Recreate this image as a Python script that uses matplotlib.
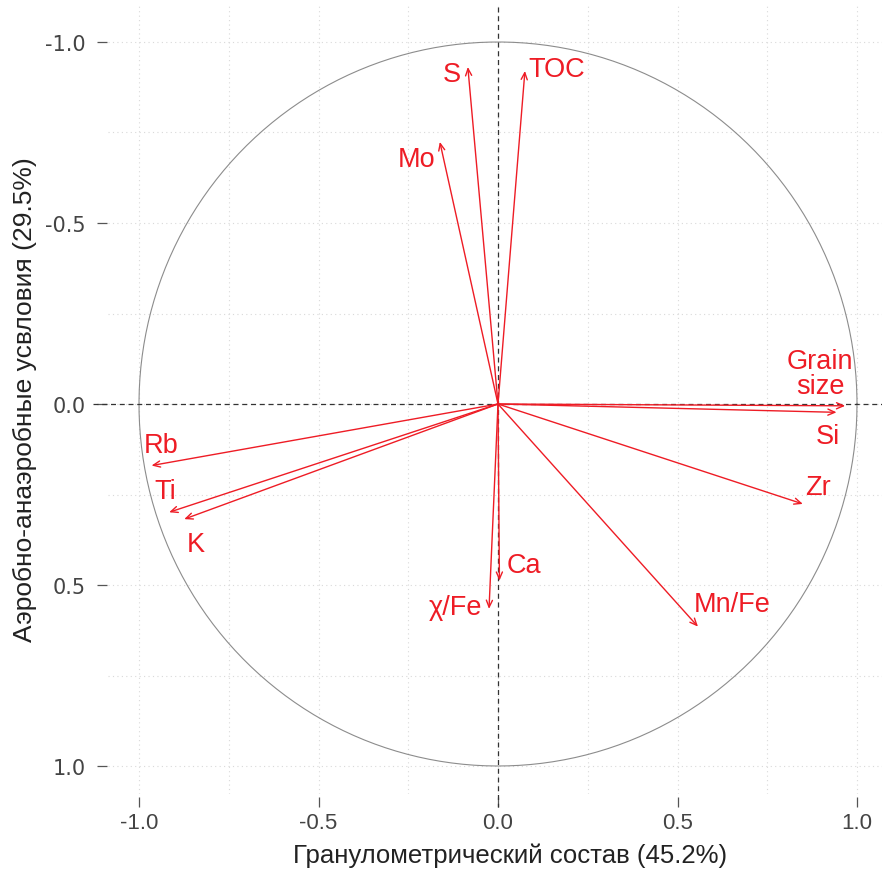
import numpy as np
import matplotlib
matplotlib.use("Agg")
import matplotlib.pyplot as plt

# PCA variable loadings (Dim1, Dim2); Dim2 axis is drawn inverted
variables = ["S", "TOC", "Mo", "Grain\nsize", "Si", "Zr", "Mn/Fe", "Ca", "χ/Fe", "Rb", "Ti", "K"]
dim1 = [-0.084, 0.075, -0.162, 0.967, 0.943, 0.849, 0.557, 0.004, -0.025, -0.965, -0.916, -0.874]
dim2 = [-0.931, -0.920, -0.724, 0.005, 0.023, 0.276, 0.615, 0.488, 0.566, 0.170, 0.299, 0.318]

tick_values = [-1.0, -0.5, 0.0, 0.5, 1.0]
tick_labels = ["-1.0", "-0.5", "0.0", "0.5", "1.0"]
x_title = "Гранулометрический состав (45.2%)"
y_title = "Аэробно-анаэробные усвловия (29.5%)"

RED = "#EE1C25"
NARROW = ["Liberation Sans Narrow", "Liberation Sans", "DejaVu Sans"]
ARIAL = ["Liberation Sans", "DejaVu Sans"]

# label offsets in points relative to each arrow tip
label_offsets = {
    "S": (-11.5, -5),
    "TOC": (23, 1.5),
    "Mo": (-16.5, -12),
    "Grain\nsize": (-18, 23),
    "Si": (-6.5, -17),
    "Zr": (11, 12),
    "Mn/Fe": (24.5, 16),
    "Ca": (18, 11.5),
    "χ/Fe": (-24, 1.5),
    "Rb": (7, 15),
    "Ti": (-3, 15),
    "K": (8, -18),
}

W, H = 882, 870
fig = plt.figure(figsize=(W / 100, H / 100), dpi=100)
left, right, top, bottom = 108, 882, 5, 795
ax = fig.add_axes([left / W, 1 - bottom / H, (right - left) / W, (bottom - top) / H])

x0, sx = 498, 359.0
y0, sy = 405, 362.0
ax.set_xlim((left - x0) / sx, (right - x0) / sx)
ax.set_ylim((bottom - y0) / sy, (top - y0) / sy)

for s in ax.spines.values():
    s.set_visible(False)
ax.spines["left"].set_position(("outward", 1))
ax.spines["bottom"].set_position(("outward", 2))

ax.set_xticks(tick_values)
ax.set_xticklabels(tick_labels, fontsize=16, family=NARROW, color="#444444")
ax.set_yticks(tick_values)
ax.set_yticklabels(tick_labels, fontsize=15, family=["DejaVu Sans"], color="#444444")
ax.tick_params(axis="both", length=7, width=0.9, color="#555555")
ax.tick_params(axis="x", pad=4)
ax.tick_params(axis="y", pad=8)

# dotted grid every 0.25
grid_vals = np.arange(-1.0, 1.01, 0.25)
for g in grid_vals:
    ax.axvline(g, color="#d9d9d9", lw=0.8, ls=(0, (1, 3)), zorder=0)
    ax.axhline(g, color="#d9d9d9", lw=0.8, ls=(0, (1, 3)), zorder=0)

# unit correlation circle
t = np.linspace(0, 2 * np.pi, 400)
ax.plot(np.cos(t), np.sin(t), color="#8c8c8c", lw=0.8, zorder=1)

# zero reference lines
ax.plot([(93 - x0) / sx, (882 - x0) / sx], [0, 0], color="#333333", lw=0.9,
        ls=(0, (4, 3)), clip_on=False, zorder=2)
ax.plot([0, 0], [(8 - y0) / sy, (808 - y0) / sy], color="#333333", lw=0.9,
        ls=(0, (4, 3)), clip_on=False, zorder=2)

for name, x, y in zip(variables, dim1, dim2):
    ax.annotate("", xy=(x, y), xytext=(0, 0),
                arrowprops=dict(arrowstyle="->,head_length=0.5,head_width=0.22",
                                color=RED, lw=1.0, shrinkA=0, shrinkB=0),
                zorder=3)
    dx, dy = label_offsets[name]
    ax.annotate(name, xy=(x, y), xytext=(dx, dy), textcoords="offset points",
                ha="center", va="center", color=RED, fontsize=19.5, family=ARIAL,
                linespacing=0.95, zorder=4)

ax.set_xlabel(x_title, fontsize=18.5, family=NARROW, color="#222222", labelpad=6)
ax.xaxis.set_label_coords((510 - left) / (right - left), -0.062)
ax.set_ylabel(y_title, fontsize=19, family=NARROW, color="#222222", labelpad=6)

fig.savefig("out.png", dpi=100, facecolor="white")
